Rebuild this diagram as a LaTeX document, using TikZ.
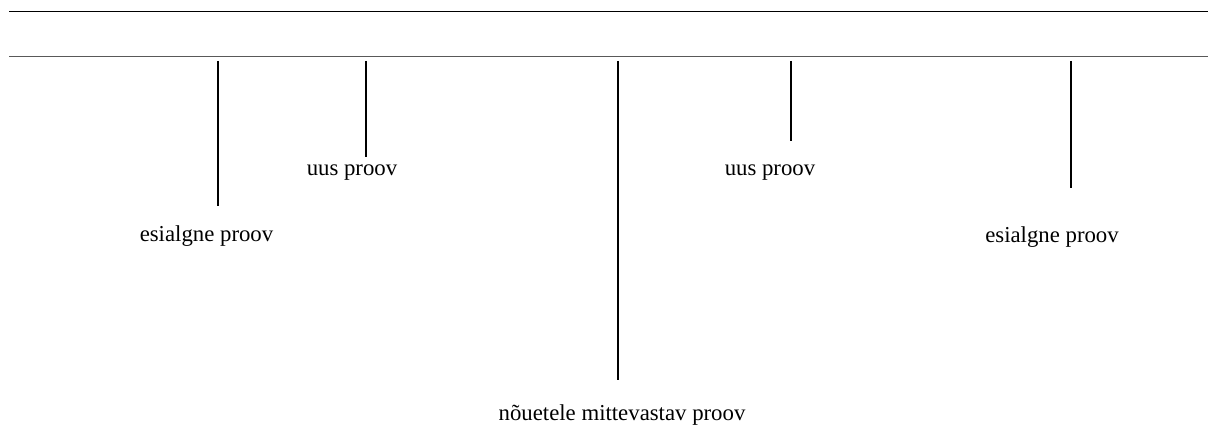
\documentclass[tikz,border=0pt]{standalone}
\usepackage{fontspec}
\setmainfont{Liberation Serif}
\usepackage{tikz}

\tikzset{
    proovline/.style={line width=1.4pt, black},
    proovlabel/.style={anchor=base, inner sep=0pt, font=\fontsize{16.2}{19}\selectfont}
}

\begin{document}
\begin{tikzpicture}[x=0.025cm, y=-0.025cm]

    % page frame
    \useasboundingbox (0, 0) rectangle (1208, 425);

    % the two rules at the top
    \coordinate (r1a) at (9, 11);
    \coordinate (r1b) at (1208, 11);
    \coordinate (r2a) at (9, 56.5);
    \coordinate (r2b) at (1208, 56.5);

    \draw[line width=0.7pt, black] (r1a) -- (r1b);
    \draw[line width=1.1pt, black!65] (r2a) -- (r2b);

    % tops and ends of the ticks

    \coordinate (t1) at (218, 61);
    \coordinate (e1) at (218, 206);

    \coordinate (t2) at (366, 61);
    \coordinate (e2) at (366, 157);

    \coordinate (t3) at (618, 61);
    \coordinate (e3) at (618, 380);

    \coordinate (t4) at (791, 61);
    \coordinate (e4) at (791, 141);

    \coordinate (t5) at (1071, 61);
    \coordinate (e5) at (1071, 188);

    % labels

    \node[proovlabel] (esi1) at (206.5, 242) {esialgne proov};
    \node[proovlabel] (uus1) at (352, 176) {uus proov};
    \node[proovlabel] (mitte) at (622, 420) {nõuetele mittevastav proov};
    \node[proovlabel] (uus2) at (770, 176) {uus proov};
    \node[proovlabel] (esi2) at (1052, 243) {esialgne proov};

    \draw [proovline](t1) -- (e1);
    \draw [proovline](t2) -- (e2);
    \draw [proovline](t3) -- (e3);
    \draw [proovline](t4) -- (e4);
    \draw [proovline](t5) -- (e5);

\end{tikzpicture}
\end{document}
